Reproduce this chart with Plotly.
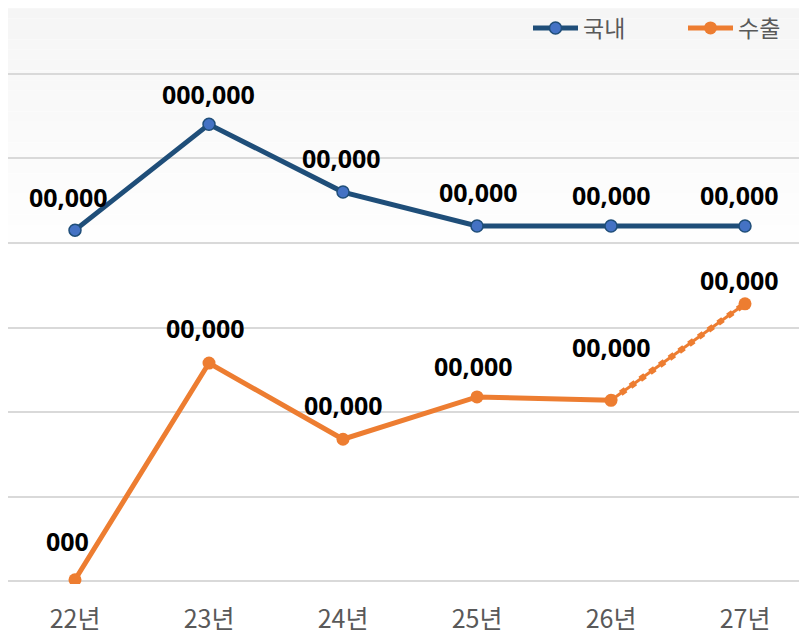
import plotly.graph_objects as go

categories = ["22년", "23년", "24년", "25년", "26년", "27년"]
domestic = [4.15, 5.40, 4.60, 4.20, 4.20, 4.20]
export = [0.02, 2.58, 1.68, 2.18, 2.14, 3.28]
domestic_labels = ["00,000", "000,000", "00,000", "00,000", "00,000", "00,000"]
export_labels = ["000", "00,000", "00,000", "00,000", "00,000", "00,000"]

dom_shift = [(-7, 33), (-1, 30), (-2, 34), (1, 34), (0, 31), (-6, 31)]
exp_shift = [(-8, 39), (-4, 35), (0, 34), (-4, 31), (0, 53), (-6, 24)]

BLUE = "#1F4E79"
BLUE_M = "#4472C4"
ORANGE = "#ED7D31"

# page body has an 8px margin; compensate so the plot lands where the reference has it
W, H = 807, 644
PAD = 0.03
ML, MR, MT, MB = 0, 3, 63, 68
PH = H - MT - MB
PW = W - ML - MR

fig = go.Figure()

# background gradient bands (top light gray -> white)
n = 26
top_px, bot_px = -10, 258
for i in range(n):
    t = i / (n - 1)
    v = int(round(245 + (255 - 245) * t))
    p0 = top_px + (bot_px - top_px) * i / n
    p1 = top_px + (bot_px - top_px) * (i + 1) / n
    y0 = (H - MB - p0) / PH
    y1 = (H - MB - p1) / PH
    fig.add_shape(type="rect", xref="paper", yref="paper",
                  x0=-0.02, x1=1.02, y0=y1, y1=y0,
                  fillcolor=f"rgb({v},{v},{v})", line=dict(width=0),
                  layer="below")

fig.add_trace(go.Scatter(
    x=categories, y=domestic, name="국내", mode="lines+markers",
    line=dict(color=BLUE, width=5),
    marker=dict(size=12, color=BLUE_M, line=dict(color=BLUE, width=1.5)),
))

fig.add_trace(go.Scatter(
    x=categories[:5], y=export[:5], name="수출", mode="lines+markers",
    line=dict(color=ORANGE, width=5),
    marker=dict(size=13, color=ORANGE),
))
fig.add_trace(go.Scatter(
    x=categories[4:], y=export[4:], showlegend=False, mode="lines",
    line=dict(color=ORANGE, width=3), hoverinfo="skip",
))
fig.add_trace(go.Scatter(
    x=categories[4:], y=export[4:], showlegend=False, mode="lines",
    line=dict(color=ORANGE, width=6, dash="6px,6px"), hoverinfo="skip",
))
fig.add_trace(go.Scatter(
    x=categories[5:], y=export[5:], showlegend=False, mode="markers",
    marker=dict(size=13, color=ORANGE), hoverinfo="skip",
))

annots = []
for cat, val, lab, (dx, dy) in zip(categories, domestic, domestic_labels, dom_shift):
    annots.append(dict(x=cat, y=val, text=lab, showarrow=False,
                       xshift=dx, yshift=dy,
                       font=dict(family="Open Sans", size=25, color="#000000", weight="bold")))
for cat, val, lab, (dx, dy) in zip(categories, export, export_labels, exp_shift):
    annots.append(dict(x=cat, y=val, text=lab, showarrow=False,
                       xshift=dx, yshift=dy,
                       font=dict(family="Open Sans", size=25, color="#000000", weight="bold")))

fig.update_layout(
    width=W, height=H,
    margin=dict(l=ML, r=MR, t=MT, b=MB, autoexpand=False),
    paper_bgcolor="white", plot_bgcolor="rgba(0,0,0,0)",
    showlegend=True,
    legend=dict(orientation="h", x=520 / PW, xanchor="left",
                y=(H - MB - 20) / PH, yanchor="middle",
                font=dict(family="Noto Sans CJK KR", size=23, color="#595959"),
                bgcolor="rgba(0,0,0,0)", itemwidth=45,
                entrywidth=95, entrywidthmode="pixels"),
    annotations=annots,
    xaxis=dict(type="category", range=[-0.5, 5.5], showgrid=False, zeroline=False,
               showline=False, ticks="",
               tickfont=dict(family="Noto Sans CJK KR", size=25, color="#595959"),
               ticklabelstandoff=18),
    yaxis=dict(range=[-PAD, 6 + PAD], tickvals=[0, 1, 2, 3, 4, 5, 6], showticklabels=False,
               showgrid=True, gridcolor="#D9D9D9", gridwidth=2, zeroline=False, showline=False),
)

fig.write_html("out.html")
